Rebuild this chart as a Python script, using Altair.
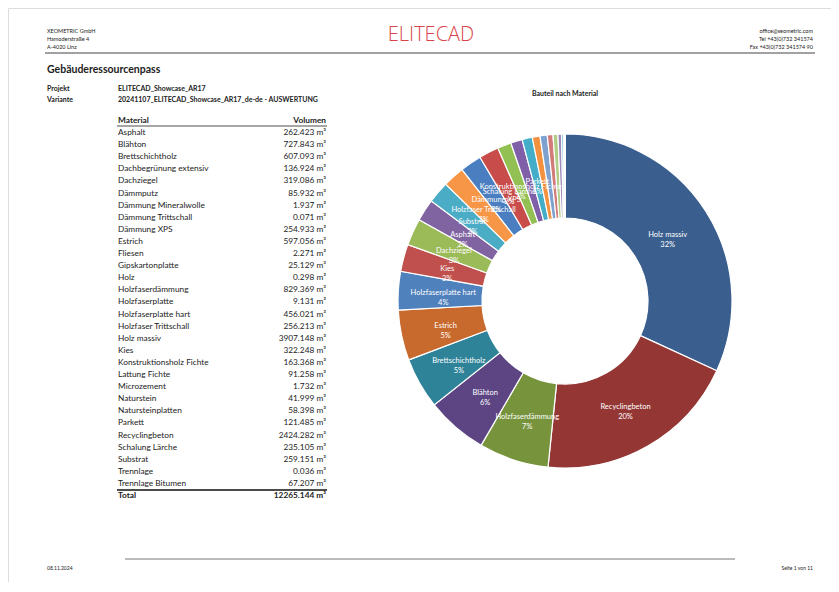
import altair as alt
import pandas as pd

# ---- data ----
materials = ["Asphalt", "Blähton", "Brettschichtholz", "Dachbegrünung extensiv", "Dachziegel",
             "Dämmputz", "Dämmung Mineralwolle", "Dämmung Trittschall", "Dämmung XPS", "Estrich",
             "Fliesen", "Gipskartonplatte", "Holz", "Holzfaserdämmung", "Holzfaserplatte",
             "Holzfaserplatte hart", "Holzfaser Trittschall", "Holz massiv", "Kies",
             "Konstruktionsholz Fichte", "Lattung Fichte", "Microzement", "Naturstein",
             "Natursteinplatten", "Parkett", "Recyclingbeton", "Schalung Lärche", "Substrat",
             "Trennlage", "Trennlage Bitumen"]
volumes = [262.423, 727.843, 607.093, 136.924, 319.086, 85.932, 1.937, 0.071, 254.933, 597.056,
           2.271, 25.129, 0.298, 829.369, 9.131, 456.021, 256.213, 3907.148, 322.248, 163.368,
           91.258, 1.732, 41.999, 58.398, 121.485, 2424.282, 235.105, 259.151, 0.036, 67.207]
total_text = "12265.144 m³"
labelled = ["Holz massiv", "Recyclingbeton", "Holzfaserdämmung", "Blähton", "Brettschichtholz",
            "Estrich", "Holzfaserplatte hart", "Kies", "Dachziegel", "Asphalt", "Substrat",
            "Holzfaser Trittschall", "Dämmung XPS", "Schalung Lärche", "Konstruktionsholz Fichte",
            "Parkett"]
palette = ["#3A5F8F", "#943634", "#77933C", "#5D4583", "#2F8399", "#C86A2E",
           "#4F81BD", "#C0504D", "#9BBB59", "#8064A2", "#4BACC6", "#F79646",
           "#4A7EC0", "#C84D4A", "#93C052", "#7E5FA8", "#44ADC8", "#F4913E",
           "#7FA1CF", "#D27C7A", "#B2CE86", "#9C88BA", "#7CC3D6", "#F9B37B",
           "#A9BEDC", "#DBA3A1", "#C6D8A6", "#B8AACB", "#A7D4E0", "#BDBDBD"]

FONT = "Lato"
W, H = 823, 574
CX, CY = 557, 293

df = pd.DataFrame({"name": materials, "vol": volumes})
df["idx"] = range(len(df))
df["valtext"] = df["vol"].map(lambda v: f"{v:.3f} m³")
tot = df["vol"].sum()
srt = df.sort_values("vol", ascending=False).reset_index(drop=True)
srt["rank"] = range(len(srt))
srt["label"] = [f"{n}\n{round(v / tot * 100):.0f}%" if n in labelled else ""
                for n, v in zip(srt["name"], srt["vol"])]
order_names = list(srt["name"])

# ---- donut ----
base = alt.Chart(srt).encode(
    theta=alt.Theta("vol:Q", stack=True),
    order=alt.Order("rank:Q"),
)
arcs = base.mark_arc(outerRadius=167, innerRadius=83, stroke="white", strokeWidth=1.2).encode(
    color=alt.Color("name:N", scale=alt.Scale(domain=order_names, range=palette), legend=None),
    x=alt.value(CX), y=alt.value(CY),
)
labels = base.mark_text(radius=122, color="white", fontSize=7.5, font=FONT,
                        lineBreak="\n", baseline="middle", align="center", lineHeight=10).encode(
    text="label:N", x=alt.value(CX), y=alt.value(CY),
)

# ---- table ----
n_rows = len(materials)
ysc = alt.Scale(domain=[0, n_rows - 1], range=[125, 476], nice=False, zero=False)
tbase = alt.Chart(df).encode(y=alt.Y("idx:Q", scale=ysc, axis=None))
names_t = tbase.mark_text(align="left", baseline="middle", fontSize=8.3, font=FONT, color="#222").encode(
    x=alt.value(110), text="name:N")
vals_t = tbase.mark_text(align="right", baseline="middle", fontSize=8.3, font=FONT, color="#222").encode(
    x=alt.value(318), text="valtext:N")

def txt(s, x, y, size=6, weight="normal", align="left", color="#222", font=FONT, **kw):
    return alt.Chart(pd.DataFrame({"t": [s]})).mark_text(
        align=align, baseline="middle", fontSize=size, font=font,
        fontWeight=weight, color=color, **kw
    ).encode(text="t:N", x=alt.value(x), y=alt.value(y))

def rule(x1, x2, y, color="#222", w=1):
    return alt.Chart(pd.DataFrame({"a": [0]})).mark_rule(color=color, strokeWidth=w).encode(
        x=alt.value(x1), x2=alt.value(x2), y=alt.value(y))

B = "bold"
layers = [
    txt("XEOMETRIC GmbH", 39, 23, 5.5),
    txt("Hamoderstraße 4", 39, 31, 5.5),
    txt("A-4020 Linz", 39, 39, 5.5),
    txt("ELITECAD", 423, 27, 20, weight=300, color="#D9434A", align="center", font="Open Sans"),
    txt("office@xeometric.com", 805, 23, 5.5, align="right"),
    txt("Tel +43(0)732 341574", 805, 31, 5.5, align="right"),
    txt("Fax +43(0)732 341574 90", 805, 39, 5.5, align="right"),
    rule(37, 807, 45, "#444", 1),
    txt("Gebäuderessourcenpass", 39, 62, 10.5, weight=B),
    txt("Projekt", 39, 81, 7, weight=B),
    txt("ELITECAD_Showcase_AR17", 110, 81, 7, weight=B),
    txt("Variante", 39, 92, 7, weight=B),
    txt("20241107_ELITECAD_Showcase_AR17_de-de - AUSWERTUNG", 110, 92, 7, weight=B,
        limit=212, ellipsis=""),
    txt("Material", 110, 113, 8.3, weight=B),
    txt("Volumen", 318, 113, 8.3, weight=B, align="right"),
    rule(109, 319, 118, "#222", 0.8),
    rule(109, 319, 482, "#111", 1.4),
    txt("Total", 110, 488, 8.3, weight=B),
    txt(total_text, 318, 488, 8.3, weight=B, align="right"),
    txt("Bauteil nach Material", CX, 86, 7, weight=B, align="center"),
    arcs, labels, names_t, vals_t,
    rule(117, 727, 551, "#BBBBBB", 2),
    txt("08.11.2024", 39, 560, 5),
    txt("Seite 1 von 11", 805, 560, 5, align="right"),
]

chart = alt.layer(*layers).properties(
    width=W, height=H, padding=0, autosize=alt.AutoSizeParams(type="none")
).configure_view(stroke=None).configure(background="white")

chart.save("out.html", embed_options={"renderer": "svg", "actions": False})
